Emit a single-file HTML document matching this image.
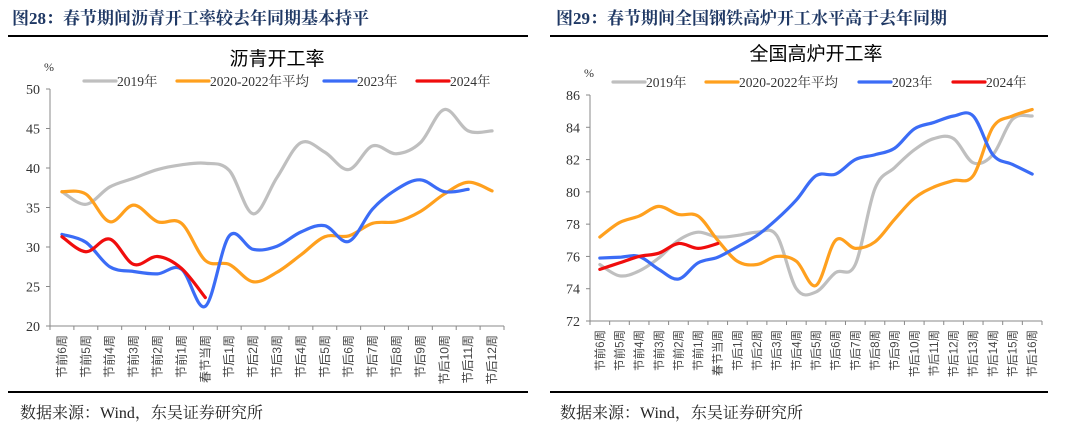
<!DOCTYPE html>
<html><head><meta charset="utf-8">
<style>
body{margin:0;width:1080px;height:431px;background:#fff;overflow:hidden;font-family:"Liberation Serif","Noto Serif CJK SC",serif;}
svg{position:absolute;left:0;top:0}
</style></head>
<body>
<svg id="s" width="1080" height="431">
  <text x="12" y="24" font-size="17" font-weight="bold" fill="#1f3864">图28：春节期间沥青开工率较去年同期基本持平</text>
  <text x="556" y="24" font-size="17" font-weight="bold" fill="#1f3864">图29：春节期间全国钢铁高炉开工水平高于去年同期</text>
  <rect x="8" y="35" width="520" height="2" fill="#000"/>
  <rect x="550" y="35" width="498" height="2" fill="#000"/>
  <rect x="8" y="391" width="520" height="2" fill="#000"/>
  <rect x="550" y="391" width="498" height="2" fill="#000"/>
  <text x="20" y="418" font-size="16" fill="#222">数据来源：Wind，东吴证券研究所</text>
  <text x="560" y="418" font-size="16" fill="#222">数据来源：Wind，东吴证券研究所</text>
</svg>
<script>
const leftCats=["节前6周","节前5周","节前4周","节前3周","节前2周","节前1周","春节当周","节后1周","节后2周","节后3周","节后4周","节后5周","节后6周","节后7周","节后8周","节后9周","节后10周","节后11周","节后12周"];
const left2019=[37,35.4,37.6,38.7,39.8,40.4,40.6,39.7,34.2,38.8,43.2,42.0,39.8,42.8,41.8,43.2,47.4,44.7,44.7];
const leftAvg=[37,36.7,33.2,35.3,33.2,33,28.3,27.8,25.6,26.8,29.0,31.3,31.4,33,33.2,34.5,36.7,38.2,37.1];
const left2023=[31.6,30.6,27.5,26.9,26.6,27.2,22.5,31.4,29.7,30.1,31.9,32.7,30.7,34.8,37.3,38.5,37.0,37.3];
const left2024=[31.3,29.4,31,27.8,28.8,27.3,23.6];
const leftTicks=[20,25,30,35,40,45,50];

const rightCats=["节前6周","节前5周","节前4周","节前3周","节前2周","节前1周","春节当周","节后1周","节后2周","节后3周","节后4周","节后5周","节后6周","节后7周","节后8周","节后9周","节后10周","节后11周","节后12周","节后13周","节后14周","节后15周","节后16周"];
const right2019=[75.5,74.8,75.1,75.9,77.0,77.5,77.2,77.3,77.5,77.3,74.0,73.8,75.0,75.5,80.2,81.5,82.6,83.3,83.3,81.8,82.3,84.5,84.7];
const rightAvg=[77.2,78.1,78.5,79.1,78.6,78.5,77.0,75.7,75.5,76.0,75.7,74.2,77.0,76.5,76.9,78.3,79.6,80.3,80.7,81.0,84.0,84.7,85.1];
const right2023=[75.9,75.95,76.0,75.2,74.6,75.6,75.95,76.6,77.3,78.3,79.5,81.0,81.1,82.0,82.3,82.7,83.9,84.3,84.7,84.7,82.3,81.7,81.1];
const right2024=[75.2,75.6,76.0,76.2,76.8,76.5,76.8];
const rightTicks=[72,74,76,78,80,82,84,86];

const NS="http://www.w3.org/2000/svg";
const svg=document.getElementById('s');
function mk(tag,attrs,parent){const e=document.createElementNS(NS,tag);for(const k in attrs)e.setAttribute(k,attrs[k]);(parent||svg).appendChild(e);return e;}
function smooth(pts){
  let d="M"+pts[0][0]+","+pts[0][1];
  for(let i=0;i<pts.length-1;i++){
    const p0=pts[i-1]||pts[i],p1=pts[i],p2=pts[i+1],p3=pts[i+2]||p2;
    const t=0.17;
    d+=" C"+(p1[0]+(p2[0]-p0[0])*t)+","+(p1[1]+(p2[1]-p0[1])*t)+" "+(p2[0]-(p3[0]-p1[0])*t)+","+(p2[1]-(p3[1]-p1[1])*t)+" "+p2[0]+","+p2[1];
  }
  return d;
}
function chart(cfg){
  const g=mk('g',{});
  
  
  const n=cfg.cats.length,band=(cfg.x1-cfg.x0)/n;
  const X=i=>cfg.x0+band*(i+0.5);
  const Y=v=>cfg.y1-(v-cfg.min)/(cfg.max-cfg.min)*(cfg.y1-cfg.y0);
  const t=mk('text',{x:(cfg.x0+cfg.x1)/2,y:cfg.titleY,'text-anchor':'middle','font-size':19,fill:'#000','font-family':'"Liberation Sans","Noto Sans CJK SC",sans-serif'},g);
  t.textContent=cfg.title;
  
  
  const u=mk('text',{x:cfg.x0-6,y:cfg.y0-18,'font-size':12,fill:'#333'},g);u.textContent='%';
  
  
  const ya=mk('line',{x1:cfg.x0,y1:cfg.y0,x2:cfg.x0,y2:cfg.y1,stroke:'#888','stroke-width':1},g);
  
  
  const xa=mk('line',{x1:cfg.x0,y1:cfg.y1,x2:cfg.x1,y2:cfg.y1,stroke:'#888','stroke-width':1},g);
  
  
  cfg.ticks.forEach(v=>{
    mk('line',{x1:cfg.x0-4,y1:Y(v),x2:cfg.x0,y2:Y(v),stroke:'#888'},g);
    const tl=mk('text',{x:cfg.x0-10,y:Y(v)+5,'text-anchor':'end','font-size':14,fill:'#333'},g);
    tl.textContent=v;
    
    
  });
  for(let i=0;i<=n;i++) mk('line',{x1:cfg.x0+band*i,y1:cfg.y1,x2:cfg.x0+band*i,y2:cfg.y1+4,stroke:'#888'},g);
  cfg.cats.forEach((c,i)=>{
    const lx=X(i)+4,ly=cfg.y1+9;
    const tx=mk('text',{x:lx,y:ly,'text-anchor':'end','font-size':cfg.labSize,fill:'#444','font-family':'"Liberation Sans","Noto Sans CJK SC",sans-serif',transform:'rotate(-90 '+lx+' '+ly+')'},g);
    tx.textContent=c;
    
    
  });
  const colors=['#bfbfbf','#ffa01e','#3b6cf6','#f00d0d'];
  const names=['2019年','2020-2022年平均','2023年','2024年'];
  cfg.series.forEach((s,k)=>{
    const p=mk('path',{d:smooth(s.map((v,i)=>[X(i),Y(v)])),fill:'none',stroke:colors[k],'stroke-width':3.2,'stroke-linecap':'round','stroke-linejoin':'round'},g);
    
    
  });
  cfg.legX.forEach((lx,k)=>{
    const lg=mk('g',{},g);
    
    
    mk('line',{x1:lx,y1:cfg.legY-5,x2:lx+32,y2:cfg.legY-5,stroke:colors[k],'stroke-width':3.2,'stroke-linecap':'round'},lg);
    const lt=mk('text',{x:lx+33,y:cfg.legY,'font-size':13.5,fill:'#333'},lg);lt.textContent=names[k];
  });
}
chart({name:'asphalt-chart',title:'沥青开工率',cats:leftCats,series:[left2019,leftAvg,left2023,left2024],ticks:leftTicks,min:20,max:50,x0:50,x1:504,y0:89,y1:326,titleY:65,legX:[84,177,324,417],legY:86,labSize:12});
chart({name:'blast-furnace-chart',title:'全国高炉开工率',cats:rightCats,series:[right2019,rightAvg,right2023,right2024],ticks:rightTicks,min:72,max:86,x0:590,x1:1042,y0:95,y1:321,titleY:60,legX:[613,706,859,953],legY:87,labSize:11.5});
</script>
</body></html>
